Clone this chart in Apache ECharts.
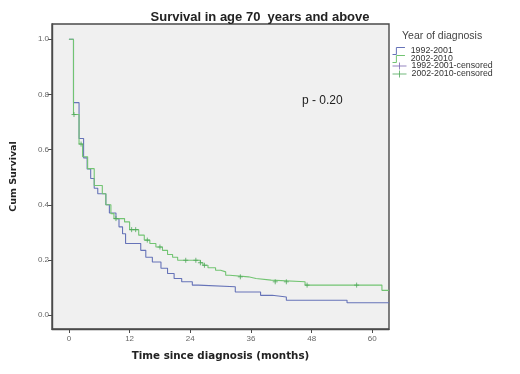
<!DOCTYPE html>
<html>
<head>
<meta charset="utf-8">
<script src="https://cdn.jsdelivr.net/npm/echarts@6/dist/echarts.min.js"></script>
<style>html,body{margin:0;padding:0;background:#fff}#c{width:520px;height:374px}</style>
</head>
<body>
<div id="c"></div>
<script>
// Kaplan-Meier step data: [month, cumulative survival from this month on]
const blueSteps = [[0,1.0],[0.9,0.77],[2,0.64],[2.9,0.57],[3.6,0.53],[4.3,0.495],[5,0.46],[5.7,0.44],[7.3,0.40],[8,0.37],[9.3,0.35],[9.9,0.32],[10.6,0.295],[11.2,0.26],[14.2,0.235],[15.2,0.21],[16.5,0.193],[18.2,0.17],[19.5,0.151],[20.8,0.133],[22.3,0.121],[24.4,0.109],[25.6,0.103],[32.9,0.084],[37.9,0.072],[40.2,0.066],[43,0.054],[55,0.045],[63.3,0.045]];
const greenSteps = [[0,1.0],[0.9,0.727],[2,0.62],[2.7,0.574],[3.7,0.531],[5,0.47],[6.6,0.44],[7.3,0.40],[8.3,0.368],[8.9,0.35],[11,0.338],[12,0.31],[13.8,0.29],[14.9,0.272],[16,0.26],[17.2,0.247],[18.5,0.235],[19.5,0.22],[20.5,0.21],[21.5,0.199],[26,0.19],[26.5,0.181],[27.5,0.172],[29,0.163],[30,0.157],[31,0.145],[31.8,0.139],[35.5,0.133],[37,0.127],[40,0.121],[46.7,0.109],[61.9,0.09],[63.3,0.09]];
const blueCensored = [];
const greenCensored = [[1.0,0.727],[2.4,0.62],[9.3,0.35],[12.4,0.31],[13.2,0.31],[15.5,0.272],[18,0.247],[23.1,0.199],[25.1,0.199],[26,0.19],[26.8,0.181],[33.9,0.139],[40.8,0.121],[43,0.121],[47.1,0.109],[56.9,0.109]];
const xTicks = [0,12,24,36,48,60];
const yTicks = [0,0.2,0.4,0.6,0.8,1.0];
const seriesNames = ['1992-2001','2002-2010','1992-2001-censored','2002-2010-censored'];

const BLUE = '#6673b8', GREEN = '#72c472', PURPLE = '#7a68b0', GREEN_D = '#4fa85a';
const FONT = 'Liberation Sans, Arial, sans-serif';
const WIDE = 'DejaVu Sans, Verdana, sans-serif';
const stepIcon = 'path://M0,10 L5,10 L5,1 L16,1';
const plusIcon = 'path://M0,5 L16,5 M8,1 L8,9';
const plusSym = 'path://M0,5 L10,5 M5,0 L5,10';
const legendColors = [BLUE, GREEN, PURPLE, GREEN_D];
const legendIcons = [stepIcon, stepIcon, plusIcon, plusIcon];
const legendTops = [45, 53, 60, 68];

const legends = seriesNames.map((n, i) => ({
  orient:'vertical', left:390, top:legendTops[i], itemWidth:14, itemHeight:7, padding:0,
  selectedMode:false,
  textStyle:{fontFamily:FONT, fontSize:8.8, color:'#333'},
  data:[{name:n, icon:legendIcons[i], itemStyle:{color:'none', borderColor:legendColors[i], borderWidth:1}}]
}));

const chart = echarts.init(document.getElementById('c'), null, {renderer:'canvas'});
chart.setOption({
  animation:false,
  backgroundColor:'#fff',
  title:[
    {text:'Survival in age 70  years and above', left:'center', top:6,
     textStyle:{fontFamily:FONT, fontSize:13, fontWeight:'bold', color:'#222'}},
    {text:'Year of diagnosis', left:397, top:26,
     textStyle:{fontFamily:FONT, fontSize:10.5, fontWeight:'normal', color:'#444'}}
  ],
  legend:legends,
  graphic:[
    {type:'text', left:302, top:95, style:{text:'p - 0.20', fontFamily:FONT, fontSize:12, fill:'#222'}}
  ],
  grid:{left:52, top:24, right:131, bottom:45, show:true, backgroundColor:'#f0f0f0', borderColor:'#4a4a4a', borderWidth:1.4},
  xAxis:{
    type:'value', min:-3.35, max:63.3,
    name:'Time since diagnosis (months)', nameLocation:'middle', nameGap:22,
    nameTextStyle:{fontFamily:WIDE, fontSize:10.3, fontWeight:'bold', color:'#222'},
    axisLine:{show:true, onZero:false, lineStyle:{color:'#4a4a4a', width:1.4}},
    axisTick:{show:true, length:4, customValues:xTicks, lineStyle:{color:'#4a4a4a'}},
    axisLabel:{customValues:xTicks, fontFamily:FONT, fontSize:8, color:'#666', margin:6},
    splitLine:{show:false}
  },
  yAxis:{
    type:'value', min:-0.05, max:1.055,
    name:'Cum Survival', nameLocation:'middle', nameGap:33, nameRotate:90,
    nameTextStyle:{fontFamily:WIDE, fontSize:9.5, fontWeight:'bold', color:'#222'},
    axisLine:{show:true, onZero:false, lineStyle:{color:'#4a4a4a', width:1.4}},
    axisTick:{show:true, length:4, customValues:yTicks, lineStyle:{color:'#4a4a4a'}},
    axisLabel:{customValues:yTicks, fontFamily:FONT, fontSize:8, color:'#666', margin:3,
      formatter:v=>v.toFixed(1)},
    splitLine:{show:false}
  },
  series:[
    {name:seriesNames[0], type:'line', step:'end', data:blueSteps, showSymbol:false, symbol:'none',
     lineStyle:{color:BLUE, width:1.1}, itemStyle:{color:BLUE}, z:2},
    {name:seriesNames[1], type:'line', step:'end', data:greenSteps, showSymbol:false, symbol:'none',
     lineStyle:{color:GREEN, width:1.1}, itemStyle:{color:GREEN}, z:3},
    {name:seriesNames[2], type:'scatter', data:blueCensored, symbol:plusSym, symbolSize:5,
     itemStyle:{color:'none', borderColor:PURPLE, borderWidth:1}, z:4},
    {name:seriesNames[3], type:'scatter', data:greenCensored, symbol:plusSym, symbolSize:5,
     itemStyle:{color:'none', borderColor:GREEN_D, borderWidth:1}, z:4}
  ]
});
</script>
</body>
</html>
